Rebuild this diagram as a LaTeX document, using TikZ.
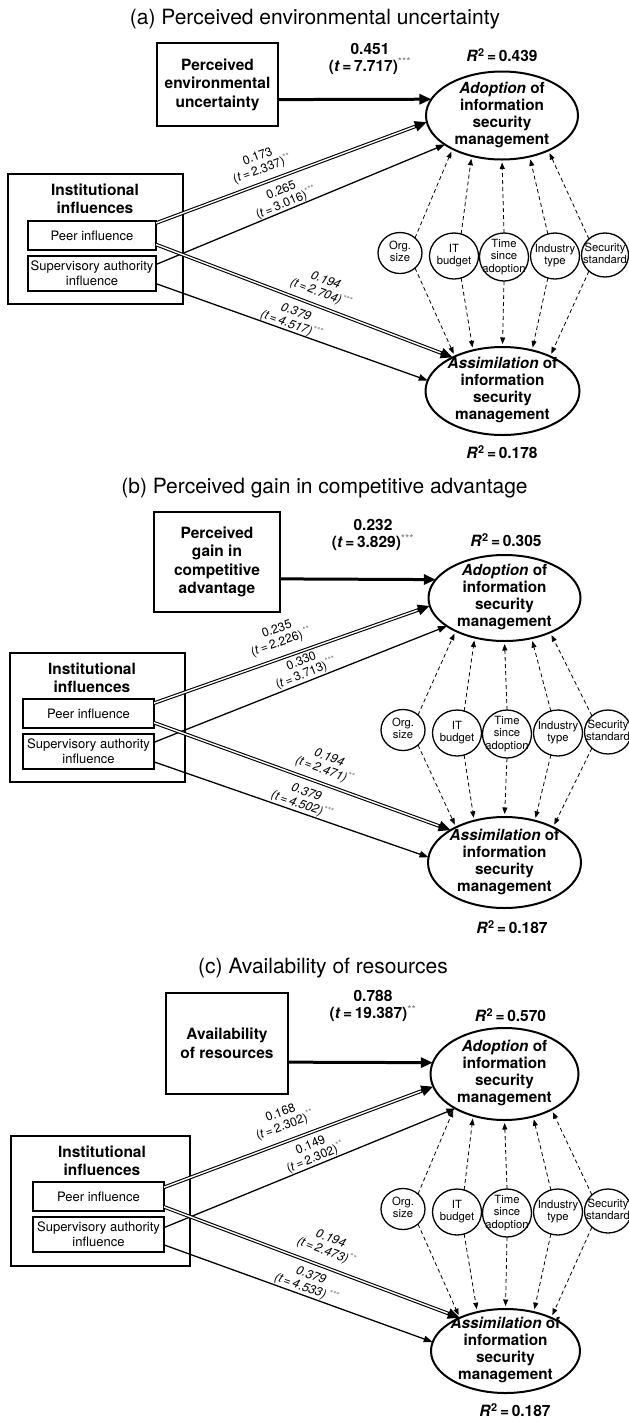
\documentclass[tikz,border=0pt]{standalone}
\usepackage{fontspec}
\setmainfont{TeX Gyre Heros}
\usetikzlibrary{arrows.meta,shapes.geometric}
\definecolor{stargray}{gray}{0.48}

% centred multi-line text that does not enlarge its node
\newcommand{\zc}[1]{\vbox to 0pt{\vss\hbox to 0pt{\hss\begin{tabular}{@{}c@{}}#1\end{tabular}\hss}\vss}}
% significance stars
\newcommand{\sig}[1]{\textsuperscript{\mdseries\color{stargray}#1}}
\newcommand{\tval}{\textit{t}\,=\,}
\newcommand{\rsqv}[1]{\textit{R}\textsuperscript{2}\,=\,#1}

\tikzset{
  every node/.style={inner sep=0pt, outer sep=0pt},
  paneltitle/.style={font=\fontsize{21}{24}\selectfont},
  drvbox/.style={draw, line width=1.8pt, align=center, font=\fontsize{15.5}{18.5}\selectfont\bfseries},
  instbox/.style={draw, line width=2pt},
  insttitle/.style={align=center, font=\fontsize{15.5}{18}\selectfont\bfseries},
  subbox/.style={draw, line width=1.4pt, align=center, font=\fontsize{13}{15}\selectfont},
  latent/.style={ellipse, draw, line width=2pt, font=\fontsize{15.3}{17}\selectfont\bfseries},
  ctrl/.style={ellipse, draw, line width=1.3pt, font=\fontsize{11.3}{12.5}\selectfont},
  coef/.style={align=center, font=\fontsize{15.5}{17}\selectfont\bfseries},
  rsq/.style={font=\fontsize{15.5}{17}\selectfont\bfseries},
  mainpath/.style={line width=3pt, -{Triangle[length=12pt,width=10pt]}},
  dbl/.style={line width=3.6pt, -{Triangle[length=12pt,width=10pt]},
              postaction={draw=white, line width=1.4pt, -, shorten >=13pt}},
  sgl/.style={line width=1.3pt, -{Triangle[length=9pt,width=6.5pt]}},
  ctl/.style={line width=0.8pt, dash pattern=on 4pt off 3pt,
              -{Triangle[length=6.5pt,width=5pt]}, shorten >=3pt},
  plab/.style={sloped, anchor=south, inner sep=#1, align=center, font=\fontsize{12.3}{13.5}\selectfont},
  ilab/.style={plab=#1, font=\fontsize{12.3}{13.5}\selectfont\itshape},
}

% row of control variables with their dashed links
\newcommand{\ctrlrow}[3]{%
  \node[ctrl, minimum width=44pt, minimum height=41pt] (#1org)  at (400+#2,#3-2) {\zc{Org.\\size}};
  \node[ctrl, minimum width=49pt, minimum height=46pt] (#1it)   at (454+#2,#3+1) {\zc{IT\\budget}};
  \node[ctrl, minimum width=49pt, minimum height=48pt] (#1time) at (504+#2,#3+2) {\zc{Time\\since\\adoption}};
  \node[ctrl, minimum width=49pt, minimum height=46pt] (#1ind)  at (555+#2,#3+1) {\zc{Industry\\type}};
  \node[ctrl, minimum width=47pt, minimum height=44pt] (#1sec)  at (605+#2,#3)   {\zc{Security\\standard}};
  \foreach \pA/\pB/\pC/\pD/\pE in {org/45/214/315/144, it/72/233/288/126, time/90/270/270/90,
                                   ind/108/304/252/54, sec/135/323/225/36}{
    \draw[ctl] (#1\pA.\pB) -- (#1ado.\pC);
    \draw[ctl] (#1\pA.\pD) -- (#1asm.\pE);
  }
}

\begin{document}
\begin{tikzpicture}[x=1pt, y=-1pt]
\fill[white] (0,0) rectangle (629,1422);
\useasboundingbox (0,0) rectangle (629,1422);

% ---------------- (a) ----------------
\node[paneltitle] (atitle) at (315,19.5) {(a) Perceived environmental uncertainty};
\node[drvbox, minimum width=121pt, minimum height=83pt] (adrv) at (217.5,84.5) {Perceived\\environmental\\uncertainty};
\node[latent, minimum width=152pt, minimum height=88pt] (aado) at (502,115.5) {\zc{\textit{Adoption} of\\information\\security\\management}};
\node[instbox, minimum width=175pt, minimum height=130pt] (ainst) at (95.5,239) {};
\node[insttitle] (ainstt) at (95,199) {Institutional\\influences};
\node[subbox, minimum width=128pt, minimum height=29pt] (apeer) at (92,235.5) {Peer influence};
\node[subbox, minimum width=128pt, minimum height=35pt] (asup) at (92,273.5) {Supervisory authority\\influence};
\node[latent, minimum width=154pt, minimum height=88pt] (aasm) at (502.5,391) {\zc{\textit{Assimilation} of\\information\\security\\management}};
\node[coef] (acoef) at (370,58.5) {0.451\\(\tval 7.717)\sig{***}};
\node[rsq] (arsqa) at (502,55) {\rsqv{0.439}};
\node[rsq] (arsqb) at (502,452) {\rsqv{0.178}};

\draw[mainpath] (adrv.-14.4) -- (aado.167.7);
\draw[dbl] (apeer.11) -- (aado.185)
  node[plab=7, pos=0.41] {0.173\\(\tval 2.337)\sig{**}};
\draw[sgl] (asup.8.4) -- (aado.207)
  node[plab=0.5, pos=0.46] {0.265\\(\tval 3.016)\sig{***}};
\draw[dbl] (apeer.-8.4) -- (aasm.146)
  node[ilab=7, pos=0.54] {0.194\\(\tval 2.704)\sig{***}};
\draw[sgl] (asup.-9.3) -- (aasm.172)
  node[ilab=0.5, pos=0.49] {0.379\\(\tval 4.517)\sig{***}};
\ctrlrow{a}{0}{255}

% ---------------- (b) ----------------
\node[paneltitle] (btitle) at (324.5,488) {(b) Perceived gain in competitive advantage};
\node[drvbox, minimum width=126pt, minimum height=100pt] (bdrv) at (217,562) {Perceived\\gain in\\competitive\\advantage};
\node[latent, minimum width=152pt, minimum height=86pt] (bado) at (504.5,598) {\zc{\textit{Adoption} of\\information\\security\\management}};
\node[instbox, minimum width=175pt, minimum height=129pt] (binst) at (97.5,717.5) {};
\node[insttitle] (binstt) at (92,677.5) {Institutional\\influences};
\node[subbox, minimum width=131pt, minimum height=29pt] (bpeer) at (88.5,713.5) {Peer influence};
\node[subbox, minimum width=131pt, minimum height=35pt] (bsup) at (88.5,751.5) {Supervisory authority\\influence};
\node[latent, minimum width=153pt, minimum height=91pt] (basm) at (504.5,862.5) {\zc{\textit{Assimilation} of\\information\\security\\management}};
\node[coef] (bcoef) at (373,535) {0.232\\(\tval 3.829)\sig{***}};
\node[rsq] (brsqa) at (506,540) {\rsqv{0.305}};
\node[rsq] (brsqb) at (512,927) {\rsqv{0.187}};

\draw[mainpath] (bdrv.-15.9) -- (bado.165.4);
\draw[dbl] (bpeer.9.96) -- (bado.186.5)
  node[plab=9, pos=0.48] {0.235\\(\tval 2.226)\,\sig{**}};
\draw[sgl] (bsup.8.25) -- (bado.206.7)
  node[plab=1.5, pos=0.53] {0.330\\(\tval 3.713)\sig{***}};
\draw[dbl] (bpeer.-8.25) -- (basm.149)
  node[ilab=7, pos=0.56] {0.194\\(\tval 2.471)\sig{**}};
\draw[sgl] (bsup.-9.1) -- (basm.176.7)
  node[ilab=1.5, pos=0.53] {0.379\\(\tval 4.502)\sig{***}};
\ctrlrow{b}{3}{732}

% ---------------- (c) ----------------
\node[paneltitle] (ctitle) at (323,968) {(c) Availability of resources};
\node[drvbox, minimum width=122pt, minimum height=101pt] (cdrv) at (227,1043.5) {Availability\\of resources};
\node[latent, minimum width=148pt, minimum height=92pt] (cado) at (504.5,1074) {\zc{\textit{Adoption} of\\information\\security\\management}};
\node[instbox, minimum width=179pt, minimum height=130pt] (cinst) at (100.5,1201) {};
\node[insttitle] (cinstt) at (102,1161) {Institutional\\influences};
\node[subbox, minimum width=131pt, minimum height=29pt] (cpeer) at (98.5,1196.5) {Peer influence};
\node[subbox, minimum width=131pt, minimum height=35pt] (csup) at (98.5,1234.5) {Supervisory authority\\influence};
\node[latent, minimum width=149pt, minimum height=84pt] (casm) at (505.5,1351) {\zc{\textit{Assimilation} of\\information\\security\\management}};
\node[coef] (ccoef) at (373,1006) {0.788\\(\tval 19.387)\sig{**}};
\node[rsq] (crsqa) at (510.5,1015) {\rsqv{0.570}};
\node[rsq] (crsqb) at (515,1410) {\rsqv{0.187}};

\draw[mainpath] (cdrv.-17.7) -- (cado.171.3);
\draw[dbl] (cpeer.8.25) -- (cado.190)
  node[plab=9, pos=0.47] {0.168\\(\tval 2.302)\sig{**}};
\draw[sgl] (csup.6.5) -- (cado.215)
  node[plab=1, pos=0.53] {0.149\\(\tval 2.302)\sig{**}};
\draw[dbl] (cpeer.-9.1) -- (casm.144.4)
  node[ilab=9, pos=0.53] {0.194\\(\tval 2.473)\sig{**}};
\draw[sgl] (csup.-9.1) -- (casm.173)
  node[ilab=1.5, pos=0.52] {0.379\\(\tval 4.533)\,\sig{***}};
\ctrlrow{c}{3}{1211}
\end{tikzpicture}
\end{document}
